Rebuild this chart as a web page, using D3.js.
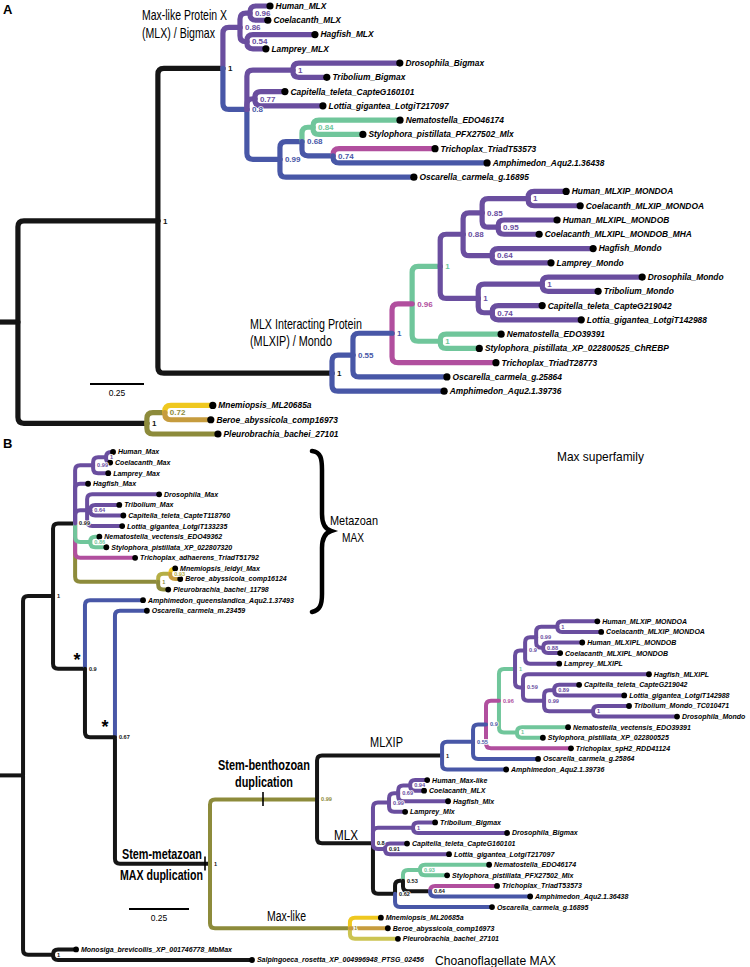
<!DOCTYPE html>
<html><head><meta charset="utf-8">
<script src="https://cdn.jsdelivr.net/npm/d3@7"></script>
<style>body{margin:0;background:#fff}svg{display:block}</style>
</head><body>
<svg id="chart" width="750" height="967"></svg>
<script>
// ---------------- DATA ----------------
// edge tables: [node, parent, branch length (subst./site), colour key, support]
const treeA_backbone = [
  ["A_root", "", 0.083, "k", ""],
  ["A_big", "A_root", 0.648, "k", "1"]
];
const treeA_MLX = [
  ["A_MLX", "A_big", 0.301, "k", "1"],
  ["A_vert", "A_MLX", 0.079, "pu", "0.86"],
  ["A_HC", "A_vert", 0.046, "pu", "0.96"],
  ["Human_MLX", "A_HC", 0.093, "pu", ""],
  ["Coelacanth_MLX", "A_HC", 0.083, "pu", ""],
  ["A_HL", "A_vert", 0.032, "pu", "0.54"],
  ["Hagfish_MLX", "A_HL", 0.315, "pu", ""],
  ["Lamprey_MLX", "A_HL", 0.088, "pu", ""],
  ["A_R", "A_MLX", 0.111, "bl", "0.8"],
  ["A_DT", "A_R", 0.213, "pu", "1"],
  ["Drosophila_Bigmax", "A_DT", 0.495, "pu", ""],
  ["Tribolium_Bigmax", "A_DT", 0.157, "pu", ""],
  ["A_CL", "A_R", 0.037, "pu", "0.77"],
  ["Capitella_teleta_CapteG160101", "A_CL", 0.139, "pu", ""],
  ["Lottia_gigantea_LotgiT217097", "A_CL", 0.315, "pu", ""],
  ["A_099", "A_R", 0.153, "bl", "0.99"],
  ["A_S", "A_099", 0.102, "bl", "0.68"],
  ["A_GR", "A_S", 0.051, "gr", "0.84"],
  ["Nematostella_EDO46174", "A_GR", 0.403, "gr", ""],
  ["Stylophora_pistillata_PFX27502_Mlx", "A_GR", 0.231, "gr", ""],
  ["A_TA", "A_S", 0.144, "bl", "0.74"],
  ["Trichoplax_TriadT53573", "A_TA", 0.472, "ma", ""],
  ["Amphimedon_Aqu2.1.36438", "A_TA", 0.713, "bl", ""],
  ["Oscarella_carmela_g.16895", "A_099", 0.620, "bl", ""]
];
const treeA_MLXIP = [
  ["A_MLXIP", "A_big", 0.806, "k", "1"],
  ["A_055", "A_MLXIP", 0.097, "bl", "0.55"],
  ["A_1b", "A_055", 0.181, "bl", "1"],
  ["A_096", "A_1b", 0.093, "ma", "0.96"],
  ["A_1g", "A_096", 0.130, "gr", "1"],
  ["A_088", "A_1g", 0.106, "pu", "0.88"],
  ["A_085", "A_088", 0.088, "pu", "0.85"],
  ["A_1d", "A_085", 0.213, "pu", "1"],
  ["Human_MLXIP_MONDOA", "A_1d", 0.176, "pu", ""],
  ["Coelacanth_MLXIP_MONDOA", "A_1d", 0.241, "pu", ""],
  ["A_095", "A_085", 0.074, "pu", "0.95"],
  ["Human_MLXIPL_MONDOB", "A_095", 0.273, "pu", ""],
  ["Coelacanth_MLXIPL_MONDOB_MHA", "A_095", 0.190, "pu", ""],
  ["A_HL2", "A_088", 0.134, "pu", "0.64"],
  ["Hagfish_Mondo", "A_HL2", 0.468, "pu", ""],
  ["Lamprey_Mondo", "A_HL2", 0.273, "pu", ""],
  ["A_1c", "A_1g", 0.176, "pu", "1"],
  ["A_DT2", "A_1c", 0.296, "pu", "1"],
  ["Drosophila_Mondo", "A_DT2", 0.463, "pu", ""],
  ["Tribolium_Mondo", "A_DT2", 0.259, "pu", ""],
  ["A_CL2", "A_1c", 0.065, "pu", "0.74"],
  ["Capitella_teleta_CapteG219042", "A_CL2", 0.231, "pu", ""],
  ["Lottia_gigantea_LotgiT142988", "A_CL2", 0.412, "pu", ""],
  ["A_NS", "A_096", 0.130, "gr", "1"],
  ["Nematostella_EDO39391", "A_NS", 0.282, "gr", ""],
  ["Stylophora_pistillata_XP_022800525_ChREBP", "A_NS", 0.181, "gr", ""],
  ["Trichoplax_TriadT28773", "A_1b", 0.481, "ma", ""],
  ["Oscarella_carmela_g.25864", "A_055", 0.435, "bl", ""],
  ["Amphimedon_Aqu2.1.39736", "A_MLXIP", 0.519, "bl", ""]
];
const treeA_cteno = [
  ["A_cteno", "A_root", 0.597, "k", "1"],
  ["A_MB", "A_cteno", 0.083, "ol", "0.72"],
  ["Mnemiopsis_ML20685a", "A_MB", 0.222, "ye", ""],
  ["Beroe_abyssicola_comp16973", "A_MB", 0.213, "go", ""],
  ["Pleurobrachia_bachei_27101", "A_cteno", 0.329, "ol", ""]
];

const treeB_backbone = [
  ["B_root", "", 0.096, "k", ""],
  ["B_M1", "B_root", 0.125, "k", "1"]
];
const treeB_Max = [
  ["B_Max", "B_M1", 0.092, "k", "0.99"],
  ["B_HCL", "B_Max", 0.075, "pu", "0.99"],
  ["B_HC", "B_HCL", 0.054, "pu", "1"],
  ["Human_Max", "B_HC", 0.029, "pu", ""],
  ["Coelacanth_Max", "B_HC", 0.017, "pu", ""],
  ["Lamprey_Max", "B_HCL", 0.063, "pu", ""],
  ["Hagfish_Max", "B_Max", 0.054, "pu", ""],
  ["B_P", "B_Max", 0.050, "pu", ""],
  ["Drosophila_Max", "B_P", 0.300, "pu", ""],
  ["B_Q", "B_P", 0.013, "pu", "0.64"],
  ["Tribolium_Max", "B_Q", 0.121, "pu", ""],
  ["Capitella_teleta_CapteT118760", "B_Q", 0.138, "pu", ""],
  ["Lottia_gigantea_LotgiT133235", "B_P", 0.146, "pu", ""],
  ["B_cnid", "B_Max", 0.063, "gr", "0.86"],
  ["Nematostella_vectensis_EDO49362", "B_cnid", 0.038, "gr", ""],
  ["Stylophora_pistillata_XP_022807320", "B_cnid", 0.067, "gr", ""],
  ["Trichoplax_adhaerens_TriadT51792", "B_Max", 0.250, "ma", ""],
  ["B_ctMax", "B_Max", 0.346, "ol", "1"],
  ["B_MB", "B_ctMax", 0.050, "yo", "0.93"],
  ["Mnemiopsis_leidyi_Max", "B_MB", 0.021, "ye", ""],
  ["Beroe_abyssicola_comp16124", "B_MB", 0.042, "go", ""],
  ["Pleurobrachia_bachei_11798", "B_ctMax", 0.042, "ol", ""]
];
const treeB_sponges = [
  ["B_09", "B_M1", 0.133, "k", "0.9"],
  ["Amphimedon_queenslandica_Aqu2.1.37493", "B_09", 0.242, "bl", ""],
  ["B_067", "B_09", 0.125, "k", "0.67"],
  ["Oscarella_carmela_m.23459", "B_067", 0.133, "bl", ""],
  ["B_D", "B_067", 0.396, "k", "1"],
  ["B_SB", "B_D", 0.446, "ol", "0.99"]
];
const treeB_MLXIP = [
  ["B_MLXIP", "B_SB", 0.521, "k", "1"],
  ["B_C", "B_MLXIP", 0.129, "bl", "0.55"],
  ["B_E", "B_C", 0.054, "bl", "0.9"],
  ["B_F", "B_E", 0.054, "ma", "0.96"],
  ["B_G", "B_F", 0.067, "gr", "1"],
  ["B_V", "B_G", 0.042, "pu", "0.9"],
  ["B_HC2", "B_V", 0.046, "pu", "0.99"],
  ["B_H1", "B_HC2", 0.088, "pu", "1"],
  ["Human_MLXIP_MONDOA", "B_H1", 0.167, "pu", ""],
  ["Coelacanth_MLXIP_MONDOA", "B_H1", 0.183, "pu", ""],
  ["B_H2", "B_HC2", 0.029, "pu", "0.88"],
  ["Human_MLXIPL_MONDOB", "B_H2", 0.163, "pu", ""],
  ["Coelacanth_MLXIPL_MONDOB", "B_H2", 0.071, "pu", ""],
  ["Lamprey_MLXIPL", "B_V", 0.142, "pu", ""],
  ["B_P2", "B_G", 0.033, "pu", "0.59"],
  ["Hagfish_MLXIPL", "B_P2", 0.525, "pu", ""],
  ["B_P3", "B_P2", 0.088, "pu", "0.99"],
  ["B_CLm", "B_P3", 0.042, "pu", "0.89"],
  ["Capitella_teleta_CapteG219042", "B_CLm", 0.104, "pu", ""],
  ["Lottia_gigantea_LotgiT142988", "B_CLm", 0.292, "pu", ""],
  ["B_TDm", "B_P3", 0.204, "pu", "1"],
  ["Tribolium_Mondo_TC010471", "B_TDm", 0.150, "pu", ""],
  ["Drosophila_Mondo", "B_TDm", 0.350, "pu", ""],
  ["B_NSm", "B_F", 0.075, "gr", "1"],
  ["Nematostella_vectensis_EDO39391", "B_NSm", 0.213, "gr", ""],
  ["Stylophora_pistillata_XP_022800525", "B_NSm", 0.108, "gr", ""],
  ["Trichoplax_spH2_RDD41124", "B_E", 0.354, "ma", ""],
  ["Oscarella_carmela_g.25864", "B_C", 0.271, "bl", ""],
  ["Amphimedon_Aqu2.1.39736", "B_MLXIP", 0.267, "bl", ""]
];
const treeB_MLX = [
  ["B_MX", "B_SB", 0.233, "k", "0.8"],
  ["B_VM", "B_MX", 0.067, "pu", "0.99"],
  ["B_HCH", "B_VM", 0.038, "pu", "0.69"],
  ["B_HCm", "B_HCH", 0.050, "pu", "0.94"],
  ["Human_Max-like", "B_HCm", 0.071, "pu", ""],
  ["Coelacanth_MLX", "B_HCm", 0.058, "pu", ""],
  ["Hagfish_Mlx", "B_HCH", 0.208, "pu", ""],
  ["Lamprey_Mlx", "B_VM", 0.067, "pu", ""],
  ["B_TDx", "B_MX", 0.167, "pu", "1"],
  ["Tribolium_Bigmax", "B_TDx", 0.092, "pu", ""],
  ["Drosophila_Bigmax", "B_TDx", 0.392, "pu", ""],
  ["B_CLx", "B_MX", 0.050, "pu", "0.91"],
  ["Capitella_teleta_CapteG160101", "B_CLx", 0.092, "pu", ""],
  ["Lottia_gigantea_LotgiT217097", "B_CLx", 0.267, "pu", ""],
  ["B_N", "B_MX", 0.092, "k", "0.62"],
  ["B_K", "B_N", 0.033, "k", "0.53"],
  ["B_GRx", "B_K", 0.071, "gr", "0.93"],
  ["Nematostella_EDO46174", "B_GRx", 0.288, "gr", ""],
  ["Stylophora_pistillata_PFX27502_Mlx", "B_GRx", 0.113, "gr", ""],
  ["B_TAx", "B_K", 0.113, "k", "0.64"],
  ["Trichoplax_TriadT53573", "B_TAx", 0.279, "ma", ""],
  ["Amphimedon_Aqu2.1.36438", "B_TAx", 0.417, "bl", ""],
  ["Oscarella_carmela_g.16895", "B_N", 0.404, "bl", ""]
];
const treeB_MaxLike = [
  ["B_ctML", "B_D", 0.583, "ol", "1"],
  ["Mnemiopsis_ML20685a", "B_ctML", 0.129, "ye", ""],
  ["Beroe_abyssicola_comp16973", "B_ctML", 0.158, "go", ""],
  ["Pleurobrachia_bachei_27101", "B_ctML", 0.200, "ly", ""]
];
const treeB_choano = [
  ["B_choano", "B_root", 0.125, "k", "1"],
  ["Monosiga_brevicollis_XP_001746778_MbMax", "B_choano", 0.096, "k", ""],
  ["Salpingoeca_rosetta_XP_004996948_PTSG_02456", "B_choano", 0.829, "k", ""]
];
const scaleBarValue = 0.25;
const palette = {k:"#151515", pu:"#6a4e9f", bl:"#4857a7", gr:"#70c69b", ma:"#b14f9e",
  ol:"#8d8b3b", ye:"#efc81f", go:"#c69c3e", yo:"#b5ae45", ly:"#cbc452"};

// ---------------- DRAWING ----------------
const svg = d3.select("#chart");
const FONT = "'Liberation Sans', Arial, Helvetica, sans-serif";

function drawTree(edges, xs, ys, o) {
  const root = d3.stratify().id(d => d[0]).parentId(d => d[1] || null)(edges);
  root.eachBefore(n => { n.depthLen = (n.parent ? n.parent.depthLen : 0) + n.data[2]; n.x = xs(n.depthLen); });
  root.leaves().forEach((l, i) => { l.y = ys(i); });
  root.eachAfter(n => { if (n.children) n.y = d3.mean(n.children, c => c.y); });
  const g = svg.append("g");
  g.append("line").attr("x1", xs(0)).attr("x2", root.x).attr("y1", root.y).attr("y2", root.y)
    .attr("stroke", palette.k).attr("stroke-width", o.sw);
  const links = root.descendants().filter(d => d.parent)
    .sort((a, b) => Math.abs(b.y - b.parent.y) - Math.abs(a.y - a.parent.y));
  g.selectAll("path.br").data(links).join("path").attr("class", "br")
    .attr("fill", "none").attr("stroke", d => palette[d.data[3]])
    .attr("stroke-width", o.sw).attr("stroke-linecap", "round").attr("stroke-linejoin", "round")
    .attr("d", d => {
      const p = d.parent, dy = d.y - p.y;
      if (Math.abs(dy) < 0.5) return `M${p.x},${p.y}H${d.x}`;
      const s = Math.sign(dy), rr = Math.min(o.cr, Math.abs(dy), Math.max(0, d.x - p.x));
      return `M${p.x},${p.y}V${d.y - s * rr}Q${p.x},${d.y} ${p.x + rr},${d.y}H${d.x}`;
    });
  const leaves = root.leaves();
  g.selectAll("circle").data(leaves).join("circle")
    .attr("cx", d => d.x).attr("cy", d => d.y).attr("r", o.dot).attr("fill", "#000");
  g.selectAll("text.tip").data(leaves).join("text").attr("class", "tip")
    .attr("x", d => d.x + o.dot + 2).attr("y", d => d.y).attr("dy", "0.35em")
    .attr("font-family", FONT).attr("font-size", o.tipFont).attr("font-weight", "bold")
    .attr("font-style", "italic").attr("fill", "#000").text(d => d.id);
  const inner = root.descendants().filter(d => d.children && d.data[4]);
  g.selectAll("text.sup").data(inner).join("text").attr("class", "sup")
    .attr("x", d => d.x + o.supDx).attr("y", d => d.y).attr("dy", "0.35em")
    .attr("font-family", FONT).attr("font-size", o.supFont).attr("font-weight", "bold")
    .attr("fill", d => (o.blackLabels.includes(d.id) ? palette.k : palette[d.data[3]]))
    .attr("stroke", "#fff").attr("stroke-width", 1.6).attr("paint-order", "stroke")
    .text(d => d.data[4]);
  return root;
}

// Panel A
const xA = d3.scaleLinear().domain([0, 1]).range([0, 216]);
const yA = d3.scaleLinear().domain([0, 30]).range([6, 434]);
drawTree([...treeA_backbone, ...treeA_MLX, ...treeA_MLXIP, ...treeA_cteno], xA, yA,
  {sw: 5.2, cr: 6, dot: 3.6, tipFont: 8.4, supFont: 8, supDx: 5, blackLabels: []});

// Panel B
const xB = d3.scaleLinear().domain([0, 1]).range([0, 240]);
const yB = d3.scaleLinear().domain([0, 48]).range([452, 960]);
drawTree([...treeB_backbone, ...treeB_Max, ...treeB_sponges, ...treeB_MLXIP, ...treeB_MLX,
          ...treeB_MaxLike, ...treeB_choano], xB, yB,
  {sw: 4, cr: 5, dot: 2.9, tipFont: 7, supFont: 5.6, supDx: 4, blackLabels: ["B_CLx"]});

// scale bars
function scaleBar(xs, x0, y) {
  const x1 = x0 + xs(scaleBarValue) - xs(0);
  svg.append("line").attr("x1", x0).attr("x2", x1).attr("y1", y).attr("y2", y)
    .attr("stroke", "#000").attr("stroke-width", 2);
  svg.append("text").attr("x", (x0 + x1) / 2).attr("y", y + 12).attr("text-anchor", "middle")
    .attr("font-family", FONT).attr("font-size", 8.5).text(scaleBarValue);
}
scaleBar(xA, 90, 384);
scaleBar(xB, 129, 909);

// annotations (condensed to the widths seen in the figure)
const notes = [
  {t: "A", x: 3, y: 9, s: 13, w: "bold"},
  {t: "B", x: 3, y: 443, s: 13, w: "bold"},
  {t: "Max-like Protein X", x: 142, y: 15, s: 14, len: 85},
  {t: "(MLX) / Bigmax", x: 142, y: 33, s: 14, len: 73},
  {t: "MLX Interacting Protein", x: 250, y: 324, s: 14, len: 112},
  {t: "(MLXIP) / Mondo", x: 250, y: 341, s: 14, len: 82},
  {t: "Max superfamily", x: 557, y: 456, s: 13, len: 87},
  {t: "Metazoan", x: 330, y: 521, s: 12, len: 48},
  {t: "MAX", x: 342, y: 538, s: 12, len: 22},
  {t: "MLXIP", x: 370, y: 742, s: 14, len: 33},
  {t: "MLX", x: 334, y: 835, s: 14, len: 24},
  {t: "Max-like", x: 267, y: 916, s: 14, len: 39},
  {t: "Choanoflagellate MAX", x: 435, y: 960, s: 13, len: 121},
  {t: "Stem-benthozoan", x: 218, y: 765, s: 14, w: "bold", len: 92},
  {t: "duplication", x: 235, y: 782, s: 14, w: "bold", len: 58},
  {t: "Stem-metazoan", x: 122, y: 854, s: 14, w: "bold", len: 80},
  {t: "MAX duplication", x: 120, y: 875, s: 14, w: "bold", len: 83},
  {t: "*", x: 77, y: 660, s: 18, w: "bold", anchor: "middle"},
  {t: "*", x: 105, y: 727, s: 18, w: "bold", anchor: "middle"}
];
notes.forEach(n => {
  const t = svg.append("text").attr("x", n.x).attr("y", n.y).attr("dy", "0.35em")
    .attr("font-family", FONT).attr("font-size", n.s).attr("font-weight", n.w || "normal")
    .attr("text-anchor", n.anchor || "start").attr("fill", "#000").text(n.t);
  if (n.len) {
    const w = t.node().getComputedTextLength();
    const k = n.len / w;
    t.attr("transform", `translate(${n.x},0) scale(${k},1) translate(${-n.x},0)`);
  }
});

// duplication ticks
[[263, 799], [205, 863.5]].forEach(([x, y]) =>
  svg.append("line").attr("x1", x).attr("x2", x).attr("y1", y - 7).attr("y2", y + 7)
    .attr("stroke", "#000").attr("stroke-width", 1.6));

// brace for Metazoan MAX
svg.append("path")
  .attr("d", "M312,451 C321,452 322,459 322,470 L322,514 C322,524 325,529 331,531 C325,533 322,538 322,548 L322,594 C322,605 320,610 312,612")
  .attr("fill", "none").attr("stroke", "#000").attr("stroke-width", 4.5).attr("stroke-linecap", "round");
</script>
</body></html>
